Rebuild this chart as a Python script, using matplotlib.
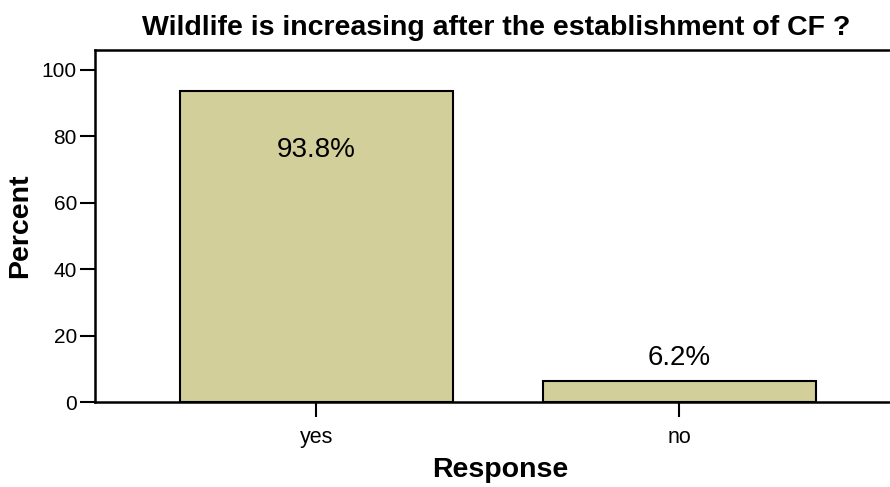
import numpy as np
import matplotlib
matplotlib.use("Agg")
import matplotlib.pyplot as plt

# response shares for the wildlife question
responses = ["yes", "no"]
percents = [93.8, 6.2]
yticks = [0, 20, 40, 60, 80, 100]

plt.rcParams['font.family'] = ['Liberation Sans', 'DejaVu Sans']

fig = plt.figure(figsize=(8.9, 4.87), dpi=100)
ax = fig.add_axes([95/890, 85/487, 1 - 95/890, 352/487])

x = np.arange(len(responses))
ax.bar(x, percents, width=0.75, color='#d3cf9a', edgecolor='black', linewidth=1.5)

# value labels: inside the tall bar, above the short one
for xi, p in zip(x, percents):
    if p > 50:
        ax.text(xi, p - 18, "%.1f%%" % p, ha='center', va='center', fontsize=20)
    else:
        ax.text(xi, p + 7, "%.1f%%" % p, ha='center', va='center', fontsize=20)

ax.set_xlim(-0.61, 1.58)
ax.set_ylim(0, 106)
ax.set_xticks(x)
ax.set_xticklabels(responses, fontsize=15.5)
ax.set_yticks(yticks)
ax.tick_params(axis='y', labelsize=15, length=11, width=1.5, direction='out', pad=2)
ax.tick_params(axis='x', length=11, width=1.5, direction='out', pad=7)

for s in ['left', 'top', 'bottom']:
    ax.spines[s].set_linewidth(1.8)
ax.spines['right'].set_visible(False)

ax.set_xlabel("Response", fontsize=20.5, fontweight='bold')
ax.xaxis.set_label_coords(0.51, -0.155)
ax.set_ylabel("Percent", fontsize=20.5, fontweight='bold', labelpad=6)
fig.text(0.558, 0.942, "Wildlife is increasing after the establishment of CF ?",
         ha='center', va='center', fontsize=20.5, fontweight='bold')

fig.savefig("out.png", dpi=100)
